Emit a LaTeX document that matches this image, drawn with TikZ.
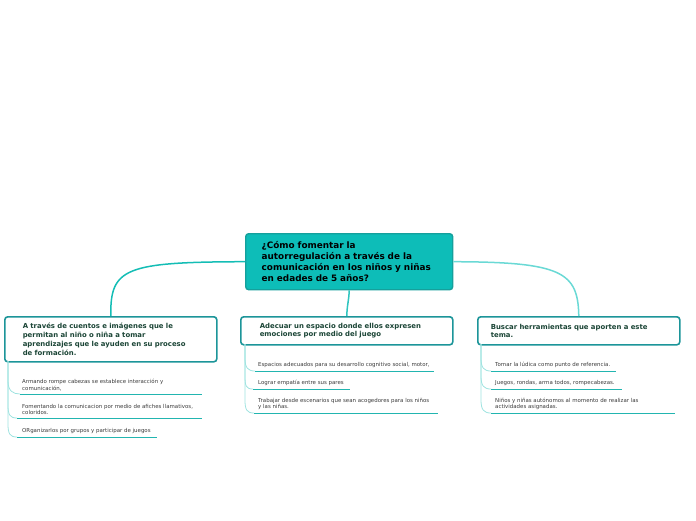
\documentclass[tikz,border=0pt]{standalone}
\usepackage{fontspec}
\setmainfont{DejaVu Sans}
\usetikzlibrary{calc}
\definecolor{cfill}{HTML}{0DBDB8}
\definecolor{cborder}{HTML}{15A09C}
\definecolor{bborder}{HTML}{1C9599}
\definecolor{htext}{HTML}{1B4536}
\definecolor{stext}{HTML}{3A3A3A}
\definecolor{linkA}{HTML}{14BDB5}
\definecolor{linkB}{HTML}{6AD9D5}
\definecolor{tree}{HTML}{9FE3E0}
\definecolor{uline}{HTML}{22B5B0}
\tikzset{
  centralbox/.style={draw=cborder, fill=cfill, line width=1.4pt, rounded corners=3pt, anchor=north west, align=left, text=black, inner ysep=0pt},
  mainbox/.style={draw=bborder, fill=white, line width=1.6pt, rounded corners=3pt, anchor=north west, align=left, text=htext, inner ysep=0pt},
  subtext/.style={anchor=west, inner sep=0pt, align=left, text=stext, font=\fontsize{5.45}{6.6}\selectfont},
  conn/.style={line width=1.5pt},
  treeline/.style={draw=tree, line width=0.8pt},
  ul/.style={draw=uline, line width=1pt},
}
\newcommand{\branch}[3]{%
  \draw[treeline] (#1) -- ($(#1 |- #2)+(0,-13)$) .. controls ($(#1 |- #2)+(0,-3)$) and ($(#2)+(-7,0)$) .. (#2);
  \draw[ul] (#2) -- (#3);
}
\begin{document}
\begin{tikzpicture}[x=1pt,y=-1pt]
\useasboundingbox (0,0) rectangle (696,520);

% central
\node[centralbox, minimum width=207pt, minimum height=56pt, text width=175pt, inner xsep=16pt,
  font=\bfseries\fontsize{8.85}{11}\selectfont] (c) at (245,233)
  {¿Cómo fomentar la\\autorregulación a través de la\\comunicación en los niños y niñas\\en edades de 5 años?};

% main topics
\node[mainbox, minimum width=212pt, minimum height=45pt, text width=176pt, inner xsep=18pt,
  font=\bfseries\fontsize{6.9}{8.7}\selectfont] (l) at (4,316)
  {A través de cuentos e imágenes que le\\permitan al niño o niña a tomar\\aprendizajes que le ayuden en su proceso\\de formación.};
\node[mainbox, minimum width=212pt, minimum height=28pt, text width=174pt, inner xsep=19pt,
  font=\bfseries\fontsize{6.9}{8}\selectfont] (m) at (240,316)
  {Adecuar un espacio donde ellos expresen\\emociones por medio del juego};
\node[mainbox, minimum width=202pt, minimum height=28pt, text width=176pt, inner xsep=13pt,
  font=\bfseries\fontsize{6.9}{8}\selectfont] (r) at (477,316)
  {Buscar herramientas que aporten a este\\tema.};

% connectors
\draw[conn, draw=linkA] (c.west) .. controls (125,262) and (110,268) .. (l.north);
\draw[conn, draw=linkA!70!linkB] (c.south) .. controls (349,300) and (347,305) .. (m.north);
\draw[conn, draw=linkB] (c.east) .. controls (562,262) and (578,272) .. (r.north);

% subitems left
\node[subtext] (l1) at (22,385) {Armando rompe cabezas se establece interacción y\\comunicación,};
\node[subtext] (l2) at (22,409.5) {Fomentando la comunicacion por medio de afiches llamativos,\\coloridos.};
\node[subtext] (l3) at (22,431) {ORganizarlos por grupos y participar de juegos};
\coordinate (lt) at (8,361);
\coordinate (l1a) at (20,394); \coordinate (l1b) at (202,394);
\coordinate (l2a) at (17,418); \coordinate (l2b) at (202,418);
\coordinate (l3a) at (17,437); \coordinate (l3b) at (157,437);
\branch{lt}{l1a}{l1b}
\branch{lt}{l2a}{l2b}
\branch{lt}{l3a}{l3b}

% subitems middle
\node[subtext] (m1) at (258,365) {Espacios adecuados para su desarrollo cognitivo social, motor,};
\node[subtext] (m2) at (258,383) {Lograr empatía entre sus pares};
\node[subtext] (m3) at (258,404) {Trabajar desde escenarios que sean acogedores para los niños\\y las niñas.};
\coordinate (mt) at (245,344);
\coordinate (m1a) at (255,371); \coordinate (m1b) at (434,371);
\coordinate (m2a) at (253,389); \coordinate (m2b) at (350,389);
\coordinate (m3a) at (254,413); \coordinate (m3b) at (438,413);
\branch{mt}{m1a}{m1b}
\branch{mt}{m2a}{m2b}
\branch{mt}{m3a}{m3b}

% subitems right
\node[subtext] (r1) at (495,365) {Tomar la lúdica como punto de referencia.};
\node[subtext] (r2) at (495,383) {Juegos, rondas, arma todos, rompecabezas.};
\node[subtext] (r3) at (495,404) {Niños y niñas autónomos al momento de realizar las\\actividades asignadas.};
\coordinate (rt) at (481,344);
\coordinate (r1a) at (491,371); \coordinate (r1b) at (616,371);
\coordinate (r2a) at (491,389); \coordinate (r2b) at (622,389);
\coordinate (r3a) at (491,413); \coordinate (r3b) at (675,413);
\branch{rt}{r1a}{r1b}
\branch{rt}{r2a}{r2b}
\branch{rt}{r3a}{r3b}
\end{tikzpicture}
\end{document}
